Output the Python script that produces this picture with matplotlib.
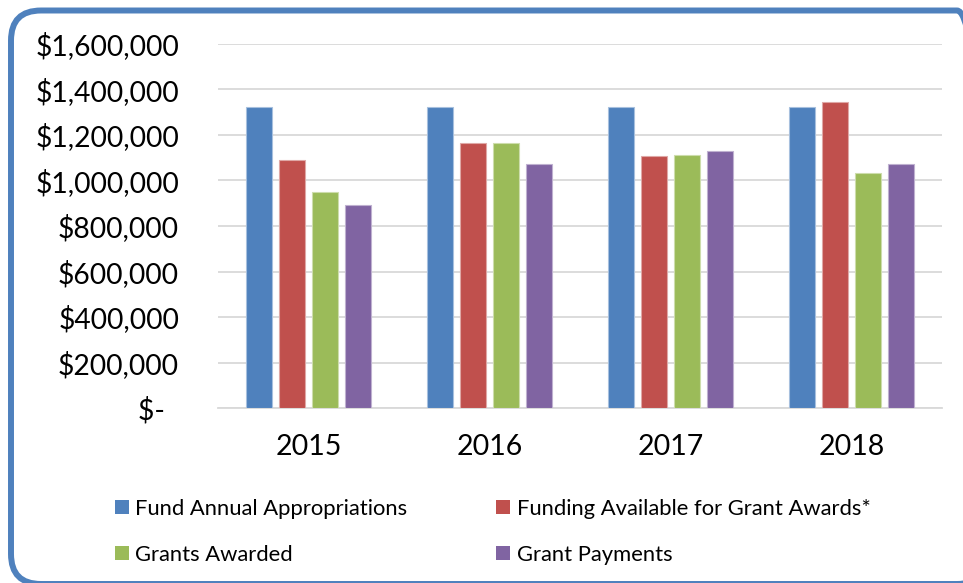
import matplotlib
matplotlib.use("Agg")
import matplotlib.pyplot as plt
from matplotlib.patches import FancyBboxPatch, Patch
from matplotlib.transforms import IdentityTransform
from matplotlib.ticker import FuncFormatter
import numpy as np

years = ["2015", "2016", "2017", "2018"]
series_names = ["Fund Annual Appropriations", "Funding Available for Grant Awards*",
                "Grants Awarded", "Grant Payments"]
appropriations = [1325000, 1325000, 1325000, 1325000]
funding_available = [1092000, 1164000, 1108000, 1345000]
grants_awarded = [949000, 1164000, 1111000, 1034000]
grant_payments = [892000, 1072000, 1130000, 1072000]
colors = ["#4F81BD", "#C0504D", "#9BBB59", "#8064A2"]
edge_colors = ["#A7C0DE", "#DFA8A6", "#CDDDAC", "#BFB1D0"]
y_ticks = [0, 200000, 400000, 600000, 800000, 1000000, 1200000, 1400000, 1600000]

plt.rcParams['font.family'] = ['Lato', 'DejaVu Sans']

W, H = 963, 583
fig = plt.figure(figsize=(W / 100, H / 100), dpi=100)
fig.patch.set_facecolor("white")

# rounded border (pixel coordinates, origin bottom-left)
box = FancyBboxPatch((11, H - 584), 987 - 11, 584 - 10.5,
                     boxstyle="round,pad=0,rounding_size=30",
                     transform=IdentityTransform(), facecolor="none",
                     edgecolor="#4F81BD", linewidth=4.3, clip_on=False)
fig.patches.append(box)

ax = fig.add_axes([218 / W, 1 - 408 / H, (942 - 218) / W, (408 - 44) / H])
ax.set_facecolor("none")

x = np.arange(len(years))
step = 33 / 181
width = 26 / 181
all_series = [appropriations, funding_available, grants_awarded, grant_payments]
handles = []
for i, (vals, c, ec, name) in enumerate(zip(all_series, colors, edge_colors, series_names)):
    ax.bar(x + (i - 1.5) * step, vals, width=width, color=c, edgecolor=ec,
           linewidth=0.8, zorder=3, label=name)
    handles.append(Patch(facecolor=c, edgecolor="none", label=name))

ax.set_xlim(-0.5, len(years) - 0.5)
ax.set_ylim(0, 1600000)
ax.set_yticks(y_ticks)


def fmt(v, pos):
    if v == 0:
        return "$-  "
    return "${:,.0f}".format(v)


ax.yaxis.set_major_formatter(FuncFormatter(fmt))
ax.set_xticks(x)
ax.set_xticklabels(years)
ax.tick_params(axis="y", length=0, pad=28, labelsize=20.3, labelcolor="black")
ax.tick_params(axis="x", length=0, pad=19, labelsize=20.5, labelcolor="black")
ax.grid(axis="y", color="#D9D9D9", linewidth=1.3, zorder=0)
for s in ["top", "right", "left"]:
    ax.spines[s].set_visible(False)
ax.spines["bottom"].set_color("#D9D9D9")
ax.spines["bottom"].set_linewidth(1.3)
ax.spines["bottom"].set_zorder(2)

order = [0, 2, 1, 3]
leg = fig.legend([handles[k] for k in order], [series_names[k] for k in order],
                 ncol=2, loc="upper left", bbox_to_anchor=(115 / W, 1 - 499 / H),
                 frameon=False, fontsize=15.8, handlelength=0.63, handleheight=0.63,
                 handletextpad=0.3, columnspacing=4.05, labelspacing=1.18,
                 borderaxespad=0, borderpad=0)

fig.savefig("out.png", dpi=100, facecolor="white")
